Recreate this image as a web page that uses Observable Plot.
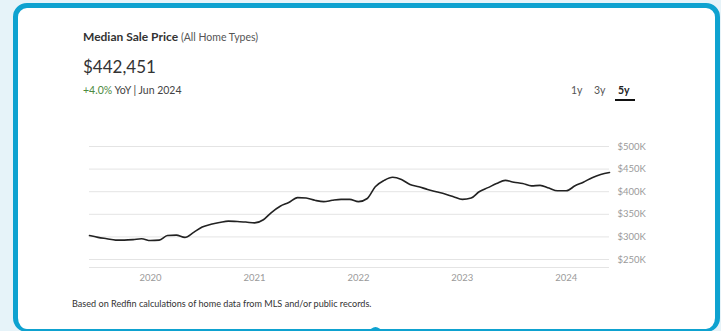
<!DOCTYPE html>
<html>
<head>
<meta charset="utf-8">
<script src="https://cdn.jsdelivr.net/npm/d3@7"></script>
<script src="https://cdn.jsdelivr.net/npm/@observablehq/plot@0.6"></script>
<style>
  html, body { margin:0; padding:0; }
  body { width:721px; height:331px; overflow:hidden; background:#e6f3f9; font-family: Lato, "Open Sans", sans-serif; position:relative; }
  .card { position:absolute; left:13px; top:3px; width:697px; height:321px; border:5px solid #0ea2d0; border-bottom-width:3px; border-radius:14px; background:#fff; }
  .abs { position:absolute; white-space:nowrap; }
  #title { left:83px; top:29px; font-size:12px; font-weight:700; color:#333; }
  #title span { font-weight:400; font-size:10.5px; color:#555; }
  #value { left:83px; top:56px; font-size:17px; color:#333; }
  #yoy { left:83px; top:84px; font-size:10.5px; color:#444; }
  #yoy .g { color:#4c8a3e; }
  .rng { top:84px; font-size:10.5px; color:#555; }
  #r5 { font-weight:700; color:#222; }
  #uline { left:615px; top:99px; width:20px; height:2px; background:#111; }
  #caption { left:72px; top:298px; font-size:9.1px; color:#333; }
  #chart { position:absolute; left:0; top:130px; }
  #dot { left:370px; top:327px; width:11px; height:11px; border-radius:50%; background:#0ea2d0; }
</style>
</head>
<body>
<div class="card"></div>
<div class="abs" id="title">Median Sale Price <span>(All Home Types)</span></div>
<div class="abs" id="value">$442,451</div>
<div class="abs" id="yoy"><span class="g">+4.0%</span> YoY | Jun 2024</div>
<div class="abs rng" style="left:571px">1y</div>
<div class="abs rng" style="left:594px">3y</div>
<div class="abs rng" id="r5" style="left:618px">5y</div>
<div class="abs" id="uline"></div>
<div id="chart"></div>
<div class="abs" id="caption">Based on Redfin calculations of home data from MLS and/or public records.</div>
<div class="abs" id="dot"></div>
<script>
// Monthly median sale price, Jun 2019 – Jun 2024
const startMonth = "2019-06";
const prices = [
  303, 299, 296, 293, 293, 294, 296, 292, 293, 303, 304, 299,
  310, 322, 328, 332, 335, 334, 333, 331, 338, 354, 368, 376,
  387, 386, 381, 378, 381, 383, 383, 378, 385, 411, 425, 432,
  427, 416, 411, 405, 400, 395, 389, 383, 386, 400, 409, 418,
  425, 421, 418, 413, 414, 408, 402, 402, 413, 421, 431, 438,
  442.451
];
const yTickValues = [250000, 300000, 350000, 400000, 450000, 500000];
const xTickYears = [2020, 2021, 2022, 2023, 2024];
const yDomain = [232400, 500000];

const start = d3.timeParse("%Y-%m")(startMonth);
const data = prices.map((p, i) => ({ date: d3.timeMonth.offset(start, i), price: p * 1000 }));
const xTicks = xTickYears.map(y => new Date(y, 0, 1));

const chart = Plot.plot({
  width: 721,
  height: 160,
  marginLeft: 89,
  marginRight: 112,
  marginTop: 16,
  marginBottom: 23,
  style: { fontFamily: "Lato, 'Open Sans', sans-serif", fontSize: "9.5px", color: "#9a9a9a", background: "transparent" },
  x: { type: "time", domain: d3.extent(data, d => d.date), label: null },
  y: { domain: yDomain, label: null },
  marks: [
    Plot.ruleY(yTickValues, { stroke: "#e4e4e4", strokeWidth: 1 }),
    Plot.ruleY([yDomain[0]], { stroke: "#e4e4e4", strokeWidth: 1 }),
    Plot.axisY(yTickValues, { anchor: "right", tickSize: 0, tickPadding: 8, label: null, tickFormat: d => "$" + d / 1000 + "K", fill: "#9a9a9a" }),
    Plot.axisX(xTicks, { tickSize: 0, tickPadding: 7, label: null, tickFormat: d3.timeFormat("%Y"), fill: "#9a9a9a" }),
    Plot.line(data, { x: "date", y: "price", stroke: "#222", strokeWidth: 1.6, curve: "monotone-x" })
  ]
});
document.getElementById("chart").appendChild(chart);
</script>
</body>
</html>
